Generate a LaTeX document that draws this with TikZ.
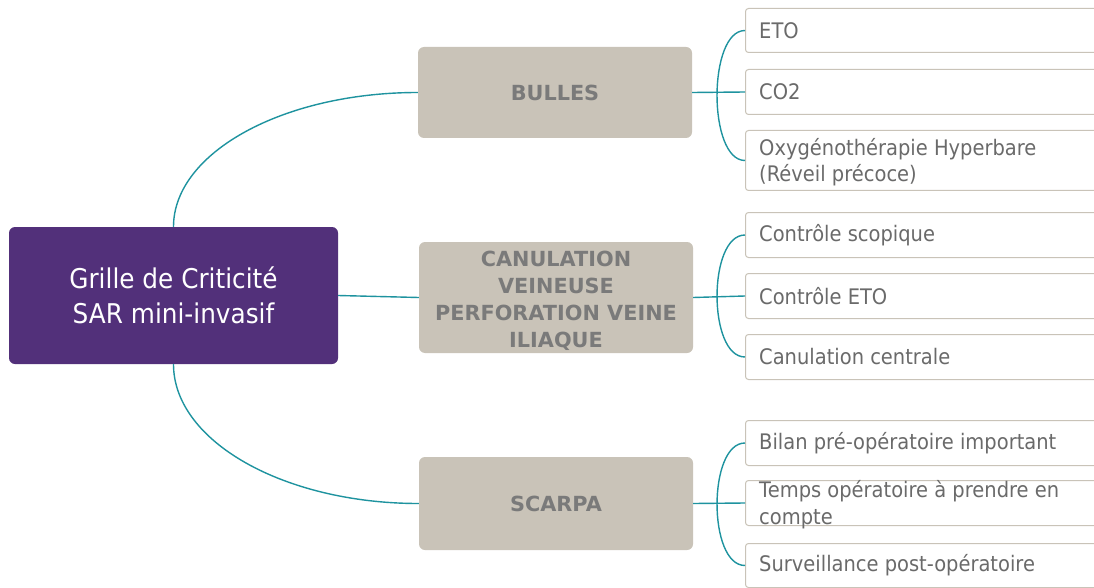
\documentclass[tikz,border=0pt]{standalone}
\usepackage{fontspec}
\setmainfont{DejaVu Sans}
\newfontfamily\tah[FakeStretch=0.91]{DejaVu Sans}
\definecolor{purp}{HTML}{52307A}
\definecolor{beige}{HTML}{C9C3B8}
\definecolor{teal1}{HTML}{1E939F}
\definecolor{labgray}{HTML}{7A7A7A}
\definecolor{leafgray}{HTML}{6A6A6A}
\begin{document}
\begin{tikzpicture}[x=1pt,y=-1pt,
  conn/.style={draw=teal1, line width=1.4pt},
  rootbox/.style={fill=purp, rounded corners=6pt, text=white, font=\tah\fontsize{27.2}{35}\selectfont, align=center, minimum width=329pt, minimum height=137pt, inner sep=0pt},
  catbox/.style={fill=beige, rounded corners=6pt, text=labgray, font=\bfseries\fontsize{20.8}{27}\selectfont, align=center, minimum width=274pt, inner sep=0pt},
  leafbox/.style={draw=beige, fill=white, line width=1pt, rounded corners=3pt, minimum width=360pt, inner sep=0pt, anchor=north west},
  leaftext/.style={text=leafgray, font=\tah\fontsize{21.4}{26.5}\selectfont, align=left, anchor=west, inner sep=0pt}]
\clip (0,0) rectangle (1094,588);
\fill[white] (0,0) rectangle (1094,588);

% root and categories
\node[rootbox] (root) at (173.5,295.5) {Grille de Criticité\\SAR mini-invasif};
\node[catbox, minimum height=91pt] (bulles) at (555,92.5) {BULLES};
\node[catbox, minimum height=111pt] (canul) at (556,297.5) {\rule{0pt}{22pt}CANULATION\\VEINEUSE\\PERFORATION VEINE\\ILIAQUE};
\node[catbox, minimum height=93pt] (scarpa) at (556,503.5) {SCARPA};

% leaves
\node[leafbox, minimum height=44pt] (eto) at (745,8) {};
\node[leafbox, minimum height=45pt] (co2) at (745,69) {};
\node[leafbox, minimum height=60pt] (oxy) at (745,130) {};
\node[leafbox, minimum height=45pt] (scop) at (745,212) {};
\node[leafbox, minimum height=45pt] (ceto) at (745,273) {};
\node[leafbox, minimum height=45pt] (ccen) at (745,334) {};
\node[leafbox, minimum height=45pt] (bilan) at (745,420) {};
\node[leafbox, minimum height=45pt] (temps) at (745,480) {};
\node[leafbox, minimum height=44pt] (surv) at (745,543) {};

\node[leaftext] (etot) at ([xshift=14pt]eto.west) {ETO};
\node[leaftext] (co2t) at ([xshift=14pt]co2.west) {CO2};
\node[leaftext] (oxyt) at ([xshift=14pt,yshift=-1.5pt]oxy.west) {Oxygénothérapie Hyperbare\\(Réveil précoce)};
\node[leaftext] (scopt) at ([xshift=14pt]scop.west) {Contrôle scopique};
\node[leaftext] (cetot) at ([xshift=14pt]ceto.west) {Contrôle ETO};
\node[leaftext] (ccent) at ([xshift=14pt]ccen.west) {Canulation centrale};
\node[leaftext] (bilant) at ([xshift=14pt]bilan.west) {Bilan pré-opératoire important};
\node[leaftext] (tempst) at ([xshift=14pt,yshift=-1.5pt]temps.west) {Temps opératoire à prendre en\\compte};
\node[leaftext] (survt) at ([xshift=14pt]surv.west) {Surveillance post-opératoire};

% root connectors
\draw[conn] (root.north) .. controls ([yshift=74pt]root.north) and ([xshift=-135pt]bulles.west) .. (bulles.west);
\draw[conn] (root.east) -- (canul.west);
\draw[conn] (root.south) .. controls ([yshift=-77pt]root.south) and ([xshift=-135pt]scarpa.west) .. (scarpa.west);

% category to leaves
\draw[conn] (bulles.east) -- (co2.west);
\draw[conn] (eto.west) .. controls +(-37.3,0) and +(-37.3,0) .. (oxy.west);
\draw[conn] (canul.east) -- (ceto.west);
\draw[conn] (scop.west) .. controls +(-37.3,0) and +(-37.3,0) .. (ccen.west);
\draw[conn] (scarpa.east) -- (temps.west);
\draw[conn] (bilan.west) .. controls +(-37.3,0) and +(-37.3,0) .. (surv.west);
\end{tikzpicture}
\end{document}
